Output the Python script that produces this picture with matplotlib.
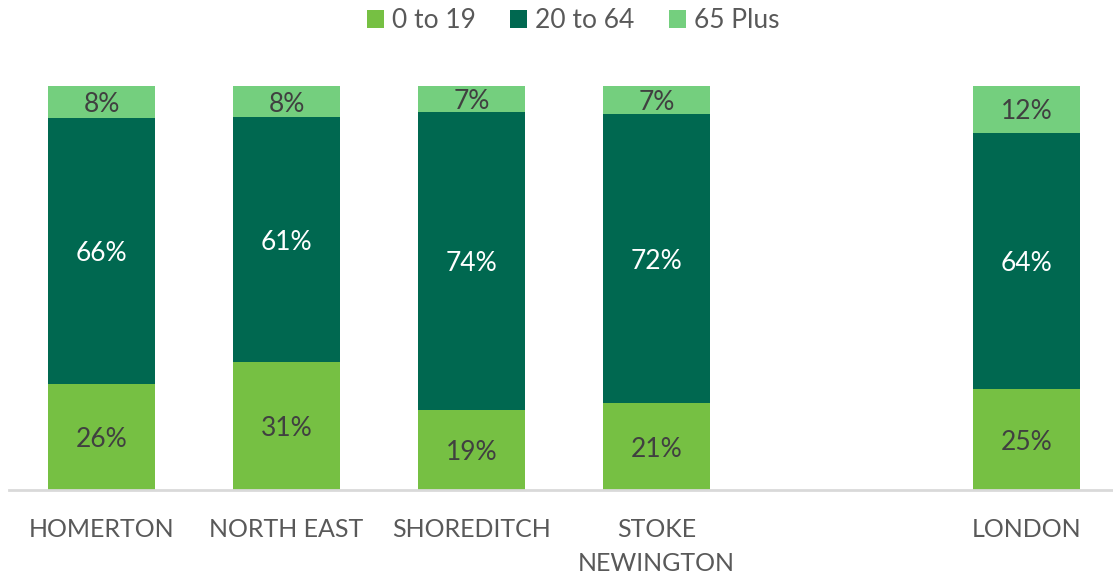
import matplotlib
matplotlib.use("Agg")
import matplotlib.pyplot as plt
import numpy as np

categories = ["HOMERTON", "NORTH EAST", "SHOREDITCH", "STOKE\nNEWINGTON", "", "LONDON"]
age_0_19 = [26.2, 31.6, 19.7, 21.5, np.nan, 24.9]
age_20_64 = [65.9, 60.7, 73.8, 71.6, np.nan, 63.5]
age_65_plus = [7.9, 7.7, 6.5, 6.9, np.nan, 11.6]
labels_0_19 = ["26%", "31%", "19%", "21%", "", "25%"]
labels_20_64 = ["66%", "61%", "74%", "72%", "", "64%"]
labels_65 = ["8%", "8%", "7%", "7%", "", "12%"]
series_names = ["0 to 19", "20 to 64", "65 Plus"]
colors = ["#76C043", "#006850", "#74CF7E"]

plt.rcParams['font.family'] = ['Lato', 'DejaVu Sans']

fig = plt.figure(figsize=(11.13, 5.78), dpi=100)
ax = fig.add_axes([9/1113, 1 - 490/578, 1110/1113, (490 - 86)/578])

x = np.arange(len(categories))
w = 0.573
a = np.nan_to_num(np.array(age_0_19))
b = np.nan_to_num(np.array(age_20_64))
c = np.nan_to_num(np.array(age_65_plus))
bars1 = ax.bar(x, a, w, color=colors[0], label=series_names[0])
bars2 = ax.bar(x, b, w, bottom=a, color=colors[1], label=series_names[1])
bars3 = ax.bar(x, c, w, bottom=a + b, color=colors[2], label=series_names[2])

for i in range(len(x)):
    if not labels_0_19[i]:
        continue
    ax.text(x[i], a[i] / 2, labels_0_19[i], ha='center', va='center_baseline', fontsize=19, color='#404040')
    ax.text(x[i], a[i] + b[i] / 2, labels_20_64[i], ha='center', va='center_baseline', fontsize=19, color='white')
    ax.text(x[i], a[i] + b[i] + c[i] / 2, labels_65[i], ha='center', va='center_baseline', fontsize=19, color='#404040')

ax.set_xlim(-0.5, len(x) - 0.5)
ax.set_ylim(0, 100)
ax.set_yticks([])
ax.set_xticks(x)
ax.set_xticklabels(categories, fontsize=18, color='#595959', linespacing=1.6)
ax.tick_params(axis='x', length=0, pad=20)
for s in ['top', 'right', 'left']:
    ax.spines[s].set_visible(False)
ax.spines['bottom'].set_color('#D9D9D9')
ax.spines['bottom'].set_linewidth(2)

leg = fig.legend(handles=[bars1, bars2, bars3], labels=series_names, loc='center',
                 bbox_to_anchor=(573/1113, 1 - 21/578), ncol=3, frameon=False,
                 fontsize=19, handlelength=0.65, handleheight=0.65, handletextpad=0.3,
                 columnspacing=1.3, labelcolor='#595959')

fig.savefig("out.png", dpi=100)
